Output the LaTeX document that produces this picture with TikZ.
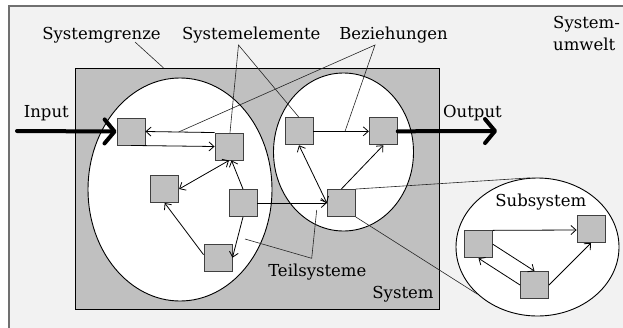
\documentclass[tikz,border=0pt]{standalone}
\usepackage{fontspec}
\setmainfont{DejaVu Serif}
\usetikzlibrary{shapes.geometric,arrows.meta,calc}
\definecolor{envbg}{HTML}{F2F2F2}
\definecolor{envline}{HTML}{707070}
\definecolor{sysgray}{HTML}{C0C0C0}
\definecolor{boxline}{HTML}{404040}
\begin{document}
\begin{tikzpicture}[x=1pt,y=-1pt,
  element/.style={draw=boxline, fill=sysgray, line width=0.9pt,
    minimum width=28pt, minimum height=27pt, inner sep=0pt},
  subset/.style={draw=black, fill=white, ellipse, line width=0.9pt, inner sep=0pt},
  rel/.style={line width=0.8pt, -{Straight Barb[length=5pt,width=9pt]}},
  birel/.style={line width=0.8pt,
    {Straight Barb[length=5pt,width=9pt]}-{Straight Barb[length=5pt,width=9pt]}},
  leader/.style={line width=0.6pt, draw=black!85},
  flow/.style={line width=4pt, line cap=round,
    -{Straight Barb[length=10pt,width=24pt,round]}},
  lbl/.style={font=\fontsize{16.5}{20}\selectfont, inner sep=0pt, anchor=base}
]
\useasboundingbox (0,0) rectangle (623,327);

% environment
\fill[envbg] (9,6) rectangle (640,340);
\draw[envline, line width=1.5pt] (9,340) -- (9,6) -- (640,6);

% system boundary
\node[draw=black, fill=sysgray, line width=0.9pt, minimum width=364pt,
      minimum height=241pt, inner sep=0pt] (sys) at (257,188.5) {};

% subsystems
\node[subset, minimum width=184pt, minimum height=223pt] (L) at (180,189.5) {};
\node[subset, minimum width=140pt, minimum height=158pt] (R) at (343.5,152) {};
\node[subset, minimum width=163pt, minimum height=138pt] (Sub) at (537.5,247) {};

% labels
\node[lbl] (tGrenze) at (101.5,39.5) {Systemgrenze};
\node[lbl] (tElem) at (251.3,39.5) {Systemelemente};
\node[lbl] (tBez) at (393.5,39.5) {Beziehungen};
\node[lbl, anchor=base west] (tUm1) at (553,28.5) {System-};
\node[lbl, anchor=base west] (tUm2) at (553,50) {umwelt};
\node[lbl] (tIn) at (46.3,117) {Input};
\node[lbl] (tOut) at (472.5,117) {Output};
\node[lbl] (tTeil) at (317.3,276.7) {Teilsysteme};
\node[lbl] (tSys) at (403,298) {System};
\node[lbl] (tSub) at (540.8,206.7) {Subsystem};

% elements
\node[element] (A) at (131,131.5) {};
\node[element] (B) at (229,146.5) {};
\node[element] (C) at (164.7,189) {};
\node[element] (D) at (243,203) {};
\node[element] (E) at (218,257.7) {};
\node[element] (F) at (299,131.3) {};
\node[element] (G) at (383.3,131.3) {};
\node[element] (H) at (341.3,203) {};
\node[element] (S1) at (478.5,244.3) {};
\node[element] (S2) at (591,229) {};
\node[element] (S3) at (534.5,285) {};

% relations
\draw[rel] (B.north west) -- coordinate[pos=0.52] (ba) (A.east);
\draw[rel] (A.south) -- (B.west);
\draw[rel] (D.north) -- ($(B.south)+(2.5,0)$);
\draw[birel] (B.south) -- (C.east);
\draw[rel] ($(E.west)+(0,-3)$) -- (C.south);
\draw[rel] (D.south) -- (E.east);
\draw[rel] (D.east) -- (H.west);
\draw[birel] (F.south) -- (H.west);
\draw[rel] (F.east) -- coordinate[pos=0.57] (fg) (G.west);
\draw[rel] (H.north) -- (G.south);
\draw[rel] (S1.north east) -- ($(S2.west)+(0,1)$);
\draw[rel] (S1.east) -- (S3.north);
\draw[rel] (S3.west) -- (S1.south);
\draw[rel] (S3.east) -- (S2.south);

% pointer lines
\coordinate (sgA) at (135,42);
\coordinate (sgB) at (163.3,67.7);
\draw[leader] (sgA) -- (sgB);
\coordinate (seA) at (238.5,45);
\draw[leader] ($(B.north)+(1,0)$) -- (seA) -- (F.north);
\coordinate (bzA) at (375,45);
\draw[leader] (ba) -- (bzA) -- (fg);
\coordinate (tsL) at (245,239);
\coordinate (tsA) at (311.7,258.3);
\coordinate (tsR) at (316.7,210);
\draw[leader] (tsL) -- (tsA) -- (tsR);
\draw[leader] (H.north east) -- (Sub.96);
\draw[leader] (H.south east) -- (Sub.218);

% input and output
\coordinate (inStart) at (17,131);
\coordinate (outEnd) at (497,131);
\draw[flow] (inStart) -- (A.west);
\draw[flow] (G.east) -- (outEnd);
\end{tikzpicture}
\end{document}
